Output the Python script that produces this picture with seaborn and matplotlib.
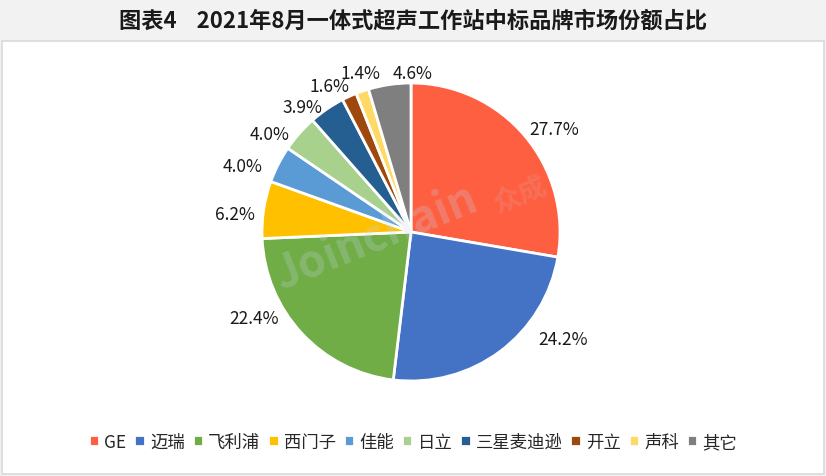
import matplotlib.pyplot as plt
import seaborn as sns
from matplotlib.patches import Rectangle

# --- dados ---
brands = ['GE', '迈瑞', '飞利浦', '西门子', '佳能', '日立', '三星麦迪逊', '开立', '声科', '其它']
shares = [27.7, 24.2, 22.4, 6.2, 4.0, 4.0, 3.9, 1.6, 1.4, 4.6]
colors = ['#FF5F41', '#4472C4', '#70AD47', '#FFC000', '#5B9BD5',
          '#A9D18E', '#255E91', '#9E480E', '#FFD966', '#7F7F7F']
title = '图表4    2021年8月一体式超声工作站中标品牌市场份额占比'

# posição dos rótulos (em raios), imitando o "melhor ajuste" do Excel
label_pos = [(0.96, 0.69), (1.02, -0.72), (-1.05, -0.58), (-1.18, 0.12), (-1.13, 0.44),
             (-0.95, 0.66), (-0.73, 0.84), (-0.55, 0.98), (-0.34, 1.07), (0.01, 1.07)]

sns.set_theme(style='white')
plt.rcParams['font.family'] = ['Noto Sans CJK SC', 'DejaVu Sans']

W, H = 826, 477
fig = plt.figure(figsize=(W / 100, H / 100), dpi=100, facecolor='#F2F2F2')

# moldura branca da área do gráfico
fig.patches.append(Rectangle((2 / W, 2 / H), 822 / W, (H - 44) / H,
                             transform=fig.transFigure, facecolor='white',
                             edgecolor='#D9D9D9', linewidth=1.2, zorder=-5))

fig.text(0.5, 1 - 21 / H, title, ha='center', va='center',
         fontsize=16, fontweight='bold', color='#1a1a1a')

# pizza: centro ~ (411, 233) px, raio ~149 px
r = 149
cx, cy = 411, 233
ax = fig.add_axes([(cx - r) / W, (H - cy - r) / H, 2 * r / W, 2 * r / H])
ax.set_zorder(2)
ax.patch.set_alpha(0)
wedges, _, autotexts = ax.pie(
    shares, colors=colors, startangle=90, counterclock=False,
    autopct='%.1f%%', pctdistance=1.17, radius=1.0,
    wedgeprops=dict(edgecolor='white', linewidth=2),
    textprops=dict(fontsize=12.5, color='#1a1a1a'))
ax.set_xlim(-1, 1)
ax.set_ylim(-1, 1)
ax.set_aspect('equal')
ax.axis('off')

for t, pos in zip(autotexts, label_pos):
    t.set_position(pos)
    t.set_ha('center')
    t.set_va('center')

# marca d'água
fig.text(0.455, 0.5, 'Joinchain', fontsize=32, fontweight='bold', color='#c8d4e8',
         alpha=0.25, rotation=22, ha='center', va='center', zorder=5)
fig.text(0.63, 0.59, '众成', fontsize=20, fontweight='bold', color='#e0a0a0',
         alpha=0.25, rotation=22, ha='center', va='center', zorder=5)

fig.legend(wedges, brands, loc='center', bbox_to_anchor=(0.5, 1 - 443 / H),
           ncol=len(brands), frameon=False, fontsize=12.5, handlelength=0.6,
           handleheight=0.6, handletextpad=0.3, columnspacing=0.45)

plt.savefig('out.png', dpi=100, facecolor=fig.get_facecolor())
